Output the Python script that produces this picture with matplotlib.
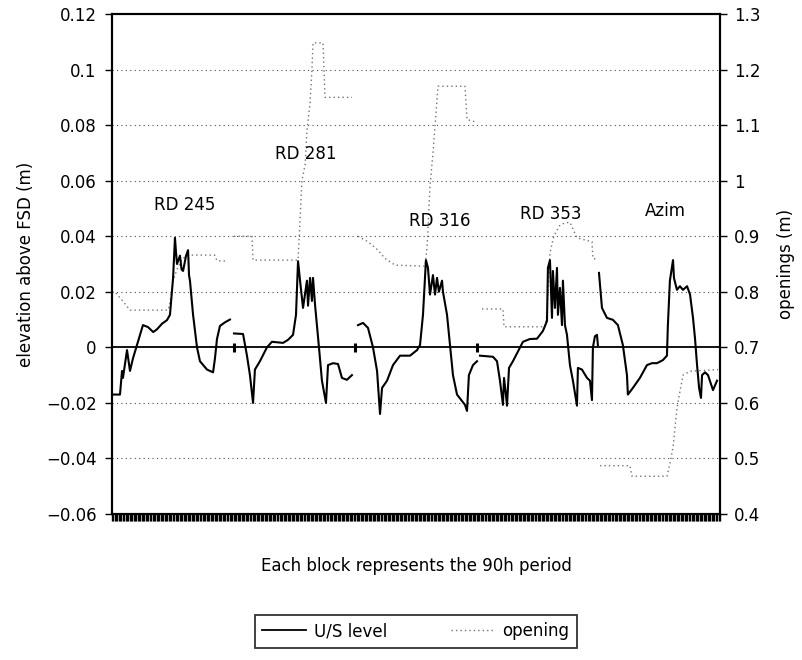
import numpy as np
import matplotlib
matplotlib.use("Agg")
import matplotlib.pyplot as plt
from matplotlib.lines import Line2D

plt.rcParams['font.family'] = ['DejaVu Sans']
plt.rcParams['font.size'] = 12

# ---------------- data ----------------
block_labels = ["RD 245", "RD 281", "RD 316", "RD 353", "Azim"]
label_hours = [54, 143.6, 242.8, 325, 410]
label_levels = [0.0513, 0.0697, 0.0455, 0.048, 0.049]
block_edges = [90, 180, 270]

# U/S level (m above FSD), one array pair per block
us_hours_1 = [0, 5.9, 7.4, 8.1, 11.1, 13.3, 15.5, 19.2, 22.9, 26.6, 30.5, 33.3, 37, 40.7,
              42.9, 45.2, 46.6, 47.4, 48.1, 50.3, 51.5, 52.6, 54.8, 56.3, 57, 57.7, 60,
              62.9, 65.1, 70.3, 74.8, 76.2, 77.7, 79.9, 83.6, 87.3]
us_level_1 = [-0.017, -0.017, -0.0085, -0.011, -0.001, -0.0085, -0.004, 0.002, 0.008, 0.0073,
              0.0055, 0.0065, 0.0085, 0.0098, 0.0117, 0.025, 0.0394, 0.034, 0.030, 0.033,
              0.028, 0.0275, 0.033, 0.035, 0.026, 0.024, 0.0117, 0.0, -0.005, -0.008,
              -0.009, -0.004, 0.003, 0.0077, 0.009, 0.010]

us_hours_2 = [90.3, 97, 99.9, 102.1, 104.4, 105.8, 109.5, 114.7, 118.4, 126.6, 130.3, 134,
              136.2, 137.7, 139.2, 141.4, 144.3, 145.1, 146.6, 148, 148.8, 150.3, 151.7,
              153.2, 155.4, 158.4, 159.9, 163.6, 167.3, 170.2, 173.9, 177.6]
us_level_2 = [0.005, 0.0048, -0.003, -0.010, -0.020, -0.008, -0.005, 0.0, 0.002, 0.0016,
              0.0027, 0.0045, 0.0117, 0.031, 0.024, 0.0142, 0.024, 0.015, 0.025, 0.0167,
              0.025, 0.0153, 0.008, 0.0, -0.012, -0.020, -0.0064, -0.0057, -0.006, -0.011,
              -0.0117, -0.010]

us_hours_3 = [182.1, 185.8, 189.5, 193.2, 196.2, 198.4, 199.9, 203.6, 208, 213.2, 220.6,
              225.8, 228, 230.2, 232.4, 233.9, 235.4, 237.6, 239.1, 240.6, 242, 244.3, 245,
              248, 250.2, 252.4, 255.4, 259.1, 261.3, 262.8, 264.2, 267.2, 270.2]
us_level_3 = [0.008, 0.0088, 0.007, 0.0, -0.0085, -0.024, -0.0146, -0.012, -0.0064, -0.003,
              -0.003, -0.001, 0.0008, 0.0117, 0.0314, 0.0286, 0.019, 0.026, 0.019, 0.025,
              0.020, 0.024, 0.020, 0.0117, 0.0008, -0.010, -0.017, -0.0193, -0.0207,
              -0.0229, -0.010, -0.0064, -0.005]

us_hours_4 = [272.4, 282, 285, 287.2, 289.4, 290.2, 291.6, 292.4, 293.9, 296.8, 304.2, 309.4,
              314.6, 319, 322, 322.7, 324.2, 325.7, 326.4, 327.9, 329.4, 330.1, 331.6, 333.1,
              333.8, 335.3, 336.8, 339, 341.2, 344.2, 344.9, 347.9, 351.6, 353.8, 355.3, 356,
              357.5, 359, 359.7]
us_level_4 = [-0.003, -0.0034, -0.005, -0.012, -0.0207, -0.011, -0.017, -0.021, -0.0074,
              -0.005, 0.002, 0.003, 0.0031, 0.0059, 0.0095, 0.0286, 0.0314, 0.0106, 0.0275,
              0.0142, 0.0286, 0.0117, 0.0214, 0.008, 0.024, 0.008, 0.0045, -0.0064, -0.012,
              -0.021, -0.0074, -0.008, -0.011, -0.012, -0.019, 0.0, 0.004, 0.0045, 0.0008]

us_hours_5 = [360.5, 362.7, 366.4, 370.8, 374.5, 378.2, 381.2, 381.9, 385.6, 390.8, 396,
              399.7, 403.4, 407.8, 410.8, 411.5, 413, 415.3, 416, 418.2, 420.4, 422.7, 425.7,
              427.9, 430.1, 431.6, 433.1, 434.6, 436, 436.8, 439, 441.2, 444.9, 447.9]
us_level_5 = [0.0268, 0.0142, 0.0106, 0.0099, 0.008, 0.0008, -0.010, -0.017, -0.0146, -0.011,
              -0.0064, -0.0057, -0.0057, -0.0046, -0.003, 0.008, 0.024, 0.0314, 0.025,
              0.0207, 0.022, 0.0207, 0.022, 0.019, 0.0106, 0.0031, -0.0064, -0.0146,
              -0.0182, -0.010, -0.009, -0.010, -0.0154, -0.012]

# gate opening (m), one array pair per block
open_hours_1 = [0, 2.2, 3.7, 8.1, 13.3, 41.5, 42.9, 45.2, 48.1, 52, 57.7, 76, 77.7, 85]
open_value_1 = [0.80, 0.80, 0.795, 0.783, 0.767, 0.767, 0.78, 0.82, 0.84, 0.86, 0.866,
                0.866, 0.856, 0.855]

open_hours_2 = [90.3, 103.6, 104.4, 137.7, 139.2, 140.6, 143, 144.3, 146.6, 148, 148.8,
                156.2, 157.7, 177.6]
open_value_2 = [0.90, 0.90, 0.857, 0.857, 0.93, 1.0, 1.03, 1.09, 1.14, 1.20, 1.248, 1.248,
                1.15, 1.15]

open_hours_3 = [182.1, 189.5, 196.9, 202.1, 209.5, 231.7, 233.2, 235.4, 237.6, 239.8, 241.3,
                261.3, 262.8, 270.2]
open_value_3 = [0.90, 0.89, 0.875, 0.86, 0.848, 0.846, 0.88, 0.99, 1.05, 1.12, 1.17, 1.17,
                1.11, 1.105]

open_hours_4 = [273.9, 289.4, 290.2, 320.5, 322, 324.2, 327, 331.6, 335.3, 339, 344.2,
                355.3, 356, 359.7]
open_value_4 = [0.769, 0.769, 0.737, 0.737, 0.76, 0.87, 0.90, 0.92, 0.924, 0.925, 0.897,
                0.89, 0.86, 0.858]

open_hours_5 = [361.2, 383.4, 384.9, 410.8, 413, 415.3, 418.2, 420.4, 422.7, 427.9, 448.6]
open_value_5 = [0.487, 0.487, 0.468, 0.468, 0.49, 0.52, 0.59, 0.62, 0.65, 0.657, 0.66]

left_ticks = [-0.06, -0.04, -0.02, 0, 0.02, 0.04, 0.06, 0.08, 0.10, 0.12]
left_tick_labels = ["\u22120.06", "\u22120.04", "\u22120.02", "0", "0.02", "0.04", "0.06",
                    "0.08", "0.1", "0.12"]
right_ticks = [0.4, 0.5, 0.6, 0.7, 0.8, 0.9, 1.0, 1.1, 1.2, 1.3]
right_tick_labels = ["0.4", "0.5", "0.6", "0.7", "0.8", "0.9", "1", "1.1", "1.2", "1.3"]


def join_blocks(hours_list, values_list):
    xs, ys = [], []
    for h, v in zip(hours_list, values_list):
        xs += list(h) + [np.nan]
        ys += list(v) + [np.nan]
    return np.array(xs), np.array(ys)


us_x, us_y = join_blocks([us_hours_1, us_hours_2, us_hours_3, us_hours_4, us_hours_5],
                         [us_level_1, us_level_2, us_level_3, us_level_4, us_level_5])
op_x, op_y = join_blocks([open_hours_1, open_hours_2, open_hours_3, open_hours_4, open_hours_5],
                         [open_value_1, open_value_2, open_value_3, open_value_4, open_value_5])

# ---------------- figure ----------------
fig = plt.figure(figsize=(8.03, 6.6), dpi=100)
ax = fig.add_axes([0.1395, 0.2212, 0.757, 0.7576])
ax2 = ax.twinx()

dot_style = (0, (1, 3))
ax2.plot(op_x, op_y, color='0.45', lw=1.0, linestyle=(0, (1, 2.2)))
ax2.set_ylim(0.4, 1.3)
ax2.set_yticks(right_ticks)
ax2.set_yticklabels(right_tick_labels)
ax2.set_ylabel("openings (m)", labelpad=12)

ax.set_zorder(ax2.get_zorder() + 1)
ax.patch.set_visible(False)

ax.set_xlim(0, 450)
ax.set_ylim(-0.06, 0.12)
for yv in left_ticks[1:-1]:
    if yv != 0:
        ax.axhline(yv, color='0.3', lw=0.8, linestyle=dot_style, zorder=1)
ax.axhline(0, color='black', lw=1.3, zorder=2)
ax.vlines(block_edges, -0.0016, 0.0016, color='black', lw=2.2, zorder=3)
ax.plot(us_x, us_y, color='black', lw=1.5, zorder=4)

for lab, hx, lv in zip(block_labels, label_hours, label_levels):
    ax.text(hx, lv, lab, ha='center', va='center', fontsize=12)

ax.set_yticks(left_ticks)
ax.set_yticklabels(left_tick_labels)
ax.set_xticks(np.arange(0, 451, 1))
ax.tick_params(axis='x', length=5, width=1.0, direction='out', labelbottom=False)
ax.tick_params(axis='y', length=5, width=1.0, direction='out', pad=6)
ax2.tick_params(axis='y', length=5, width=1.0, direction='out', pad=5)
ax.set_ylabel("elevation above FSD (m)", labelpad=8)
ax.set_xlabel("Each block represents the 90h period", labelpad=26)

for a in (ax, ax2):
    for s in a.spines.values():
        s.set_linewidth(1.5)

handles = [Line2D([], [], color='black', lw=1.3),
           Line2D([], [], color='0.45', lw=1.0, linestyle=(0, (1, 2.2)))]
leg = fig.legend(handles, ["U/S level", "opening"], ncol=2,
                 loc='center', bbox_to_anchor=(0.3175, 0.0136, 0.401, 0.06),
                 mode='expand', frameon=True, fancybox=False, fontsize=12,
                 handlelength=2.6, handletextpad=0.5, borderaxespad=0.0,
                 borderpad=0.45)
leg.get_frame().set_edgecolor('black')
leg.get_frame().set_linewidth(1.3)

fig.savefig("out.png", dpi=100)
